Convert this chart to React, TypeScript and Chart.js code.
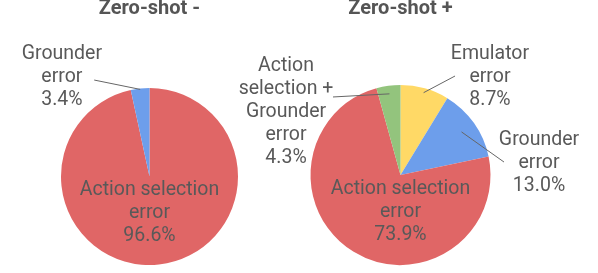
import React, { useEffect, useRef } from "react";
import { Chart, registerables } from "chart.js";

Chart.register(...registerables);

const leftTitle = "Zero-shot -";
const leftCategories = ["Action selection error", "Grounder error"];
const leftValues = [96.6, 3.4];
const leftColors = ["#e06666", "#6d9eeb"];
const leftLabelLines = [["Action selection", "error"], ["Grounder", "error"]];

const rightTitle = "Zero-shot +";
const rightCategories = [
  "Emulator error",
  "Grounder error",
  "Action selection error",
  "Action selection + Grounder error",
];
const rightValues = [8.7, 13.0, 73.9, 4.3];
const rightColors = ["#ffd966", "#6d9eeb", "#e06666", "#93c47d"];
const rightLabelLines = [
  ["Emulator", "error"],
  ["Grounder", "error"],
  ["Action selection", "error"],
  ["Action", "selection +", "Grounder", "error"],
];

// label placement (in units of the pie radius, relative to the pie centre)
const leftPlacements = [
  { tx: 0, ty: 0.41 },
  { tx: -0.99, ty: -1.12, lx: -0.625, ly: -1.09, end: 0.99 },
];
const rightPlacements = [
  { tx: 0.994, ty: -1.089, lx: 0.606, ly: -1.1, end: 0.95 },
  { tx: 1.539, ty: -0.133, lx: 1.15, ly: -0.144, end: 0.83 },
  { tx: 0, ty: 0.41 },
  { tx: -1.272, ty: -0.7, lx: -0.75, ly: -0.867, end: 0.91 },
];

const TEXT = "#595959";
const FONT = "Roboto, 'Noto Sans', sans-serif";

const pieLabels = {
  id: "pieLabels",
  afterDatasetsDraw(chart: any, _args: any, opts: any) {
    const ctx = chart.ctx;
    const meta = chart.getDatasetMeta(0);
    const ds = chart.data.datasets[0];
    ctx.save();
    meta.data.forEach((arc: any, i: number) => {
      const { x, y, outerRadius: R, startAngle, endAngle } = arc.getProps(
        ["x", "y", "outerRadius", "startAngle", "endAngle"],
        true
      );
      const mid = (startAngle + endAngle) / 2;
      const p = opts.placements[i];
      const lines = [...opts.lines[i], (ds.data[i] as number).toFixed(1) + "%"];
      const tx = x + p.tx * R;
      const ty = y + p.ty * R;
      if (p.end) {
        ctx.strokeStyle = "#666666";
        ctx.lineWidth = 1;
        ctx.beginPath();
        ctx.moveTo(x + p.lx * R, y + p.ly * R);
        ctx.lineTo(x + Math.cos(mid) * p.end * R, y + Math.sin(mid) * p.end * R);
        ctx.stroke();
      }
      ctx.font = `19.5px ${FONT}`;
      ctx.fillStyle = TEXT;
      ctx.textAlign = "center";
      ctx.textBaseline = "middle";
      const lh = 23;
      lines.forEach((l: string, j: number) => {
        ctx.fillText(l, tx, ty + (j - (lines.length - 1) / 2) * lh);
      });
    });
    ctx.font = `bold 20px ${FONT}`;
    ctx.fillStyle = "#555555";
    ctx.textAlign = "center";
    ctx.textBaseline = "middle";
    ctx.fillText(opts.title, meta.data[0].x, opts.titleY);
    ctx.restore();
  },
};

function PieChart(props: {
  title: string;
  categories: string[];
  values: number[];
  colors: string[];
  lines: string[][];
  placements: any[];
  padding: any;
  width: number;
}) {
  const ref = useRef<HTMLCanvasElement>(null);
  useEffect(() => {
    if (!ref.current) return;
    const chart = new Chart(ref.current, {
      type: "pie",
      data: {
        labels: props.categories,
        datasets: [
          {
            data: props.values,
            backgroundColor: props.colors,
            borderWidth: 0,
          },
        ],
      },
      options: {
        responsive: false,
        animation: false,
        layout: { padding: props.padding },
        plugins: {
          legend: { display: false },
          tooltip: { enabled: false },
          pieLabels: {
            title: props.title,
            titleY: 9,
            lines: props.lines,
            placements: props.placements,
          },
        } as any,
      },
      plugins: [pieLabels],
    });
    return () => chart.destroy();
  }, []);
  return <canvas ref={ref} width={props.width} height={273} style={{ display: "block" }} />;
}

export default function App() {
  return (
    <div
      style={{
        position: "absolute",
        left: 0,
        top: 0,
        width: 598,
        height: 273,
        background: "#ffffff",
      }}
    >
      <div style={{ position: "absolute", left: 0, top: 0 }}>
        <PieChart
          title={leftTitle}
          categories={leftCategories}
          values={leftValues}
          colors={leftColors}
          lines={leftLabelLines}
          placements={leftPlacements}
          width={299}
          padding={{ top: 88, bottom: 8, left: 61, right: 61 }}
        />
      </div>
      <div style={{ position: "absolute", left: 230, top: 0 }}>
        <PieChart
          title={rightTitle}
          categories={rightCategories}
          values={rightValues}
          colors={rightColors}
          lines={rightLabelLines}
          placements={rightPlacements}
          width={368}
          padding={{ top: 85, bottom: 8, left: 80.5, right: 107.5 }}
        />
      </div>
    </div>
  );
}
